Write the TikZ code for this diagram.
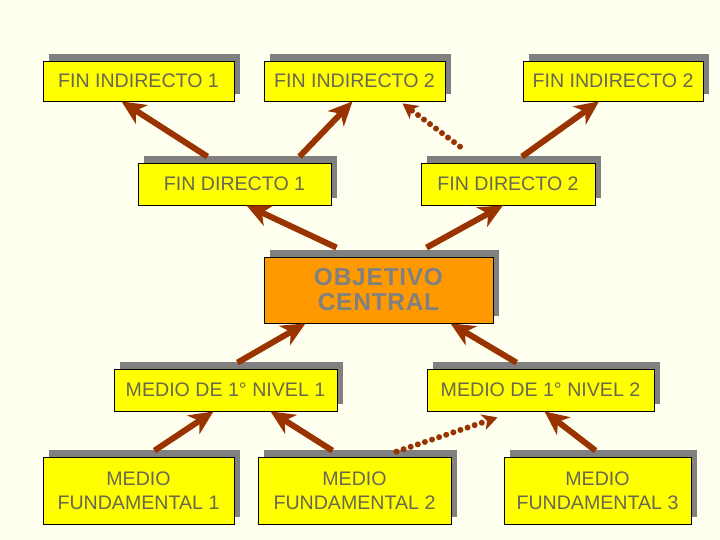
\documentclass[tikz,border=0pt]{standalone}
\usepackage{fontspec}
\setmainfont{Liberation Sans}
\newfontfamily\ocfont[LetterSpace=3]{Liberation Sans}
\usetikzlibrary{arrows.meta,shadows}
\definecolor{fondo}{RGB}{255,255,240}
\definecolor{amarillo}{RGB}{255,255,0}
\definecolor{naranja}{RGB}{255,153,0}
\definecolor{sombra}{RGB}{128,128,128}
\definecolor{marron}{RGB}{153,51,0}
\definecolor{texto}{RGB}{104,104,80}

\begin{document}
\begin{tikzpicture}[x=1pt, y=-1pt,
  caja/.style={draw=black, line width=0.8pt, fill=amarillo, text=texto, align=center,
    font=\fontsize{19.6}{24}\selectfont, inner sep=0pt,
    drop shadow={shadow xshift=6pt, shadow yshift=7pt, fill=sombra, opacity=1}},
  flecha/.style={draw=marron, line width=6pt, -{Stealth[length=24pt,width=22pt,inset=7pt]}},
  punteada/.style={draw=marron, line width=6pt, line cap=round, dash pattern=on 0pt off 7.5pt,
    -{Stealth[length=15pt,width=16pt,inset=4pt]}}]

\fill[fondo] (0,0) rectangle (720,540);
\useasboundingbox (0,0) rectangle (720,540);

\node[caja, minimum width=191pt, minimum height=40pt] (fi1) at (138.5,81) {FIN INDIRECTO 1};
\node[caja, minimum width=181pt, minimum height=40pt] (fi2a) at (354.5,81) {FIN INDIRECTO 2};
\node[caja, minimum width=180pt, minimum height=40pt] (fi2b) at (613,81) {FIN INDIRECTO 2};

\node[caja, minimum width=193pt, minimum height=42pt] (fd1) at (234.5,184) {FIN DIRECTO 1};
\node[caja, minimum width=174pt, minimum height=42pt] (fd2) at (508,184) {FIN DIRECTO 2};

\node[caja, fill=naranja, text=sombra, minimum width=229pt, minimum height=66pt,
  font=\ocfont\bfseries\fontsize{24.5}{25}\selectfont] (oc) at (378.5,290) {OBJETIVO\\CENTRAL};

\node[caja, minimum width=223pt, minimum height=42pt] (mn1) at (225.5,390) {MEDIO DE 1° NIVEL 1};
\node[caja, minimum width=227pt, minimum height=42pt] (mn2) at (540.5,390) {MEDIO DE 1° NIVEL 2};

\node[caja, minimum width=191pt, minimum height=67pt] (mf1) at (138.5,490.5) {MEDIO\\FUNDAMENTAL 1};
\node[caja, minimum width=193pt, minimum height=67pt] (mf2) at (354.5,490.5) {MEDIO\\FUNDAMENTAL 2};
\node[caja, minimum width=187pt, minimum height=67pt] (mf3) at (597.5,490.5) {MEDIO\\FUNDAMENTAL 3};

% fines
\draw[flecha] ([xshift=-27pt,yshift=6pt]fd1.north) -- ([xshift=-17pt]fi1.south);
\draw[flecha] ([xshift=65pt,yshift=6pt]fd1.north) -- ([xshift=-2pt]fi2a.south);
\draw[punteada] ([xshift=-48pt,yshift=16pt]fd2.north) -- ([xshift=48pt,yshift=-2pt]fi2a.south);
\draw[flecha] ([xshift=14pt,yshift=6pt]fd2.north) -- ([xshift=-14pt]fi2b.south);

\draw[flecha] ([xshift=-42pt,yshift=9pt]oc.north) -- ([xshift=12pt]fd1.south);
\draw[flecha] ([xshift=48pt,yshift=9pt]oc.north) -- ([xshift=-5pt]fd2.south);

% medios
\draw[flecha] ([xshift=12pt,yshift=6pt]mn1.north) -- ([xshift=-73pt]oc.south);
\draw[flecha] ([xshift=-24pt,yshift=6pt]mn2.north) -- ([xshift=72pt]oc.south);

\draw[flecha] ([xshift=16pt,yshift=6pt]mf1.north) -- ([xshift=-12pt]mn1.south);
\draw[flecha] ([xshift=-22pt,yshift=6pt]mf2.north) -- ([xshift=45pt]mn1.south);
\draw[punteada] ([xshift=42pt,yshift=5pt]mf2.north) -- ([xshift=-43pt,yshift=-6pt]mn2.south);
\draw[flecha] ([xshift=-2pt,yshift=6pt]mf3.north) -- ([xshift=4pt]mn2.south);

\end{tikzpicture}
\end{document}
